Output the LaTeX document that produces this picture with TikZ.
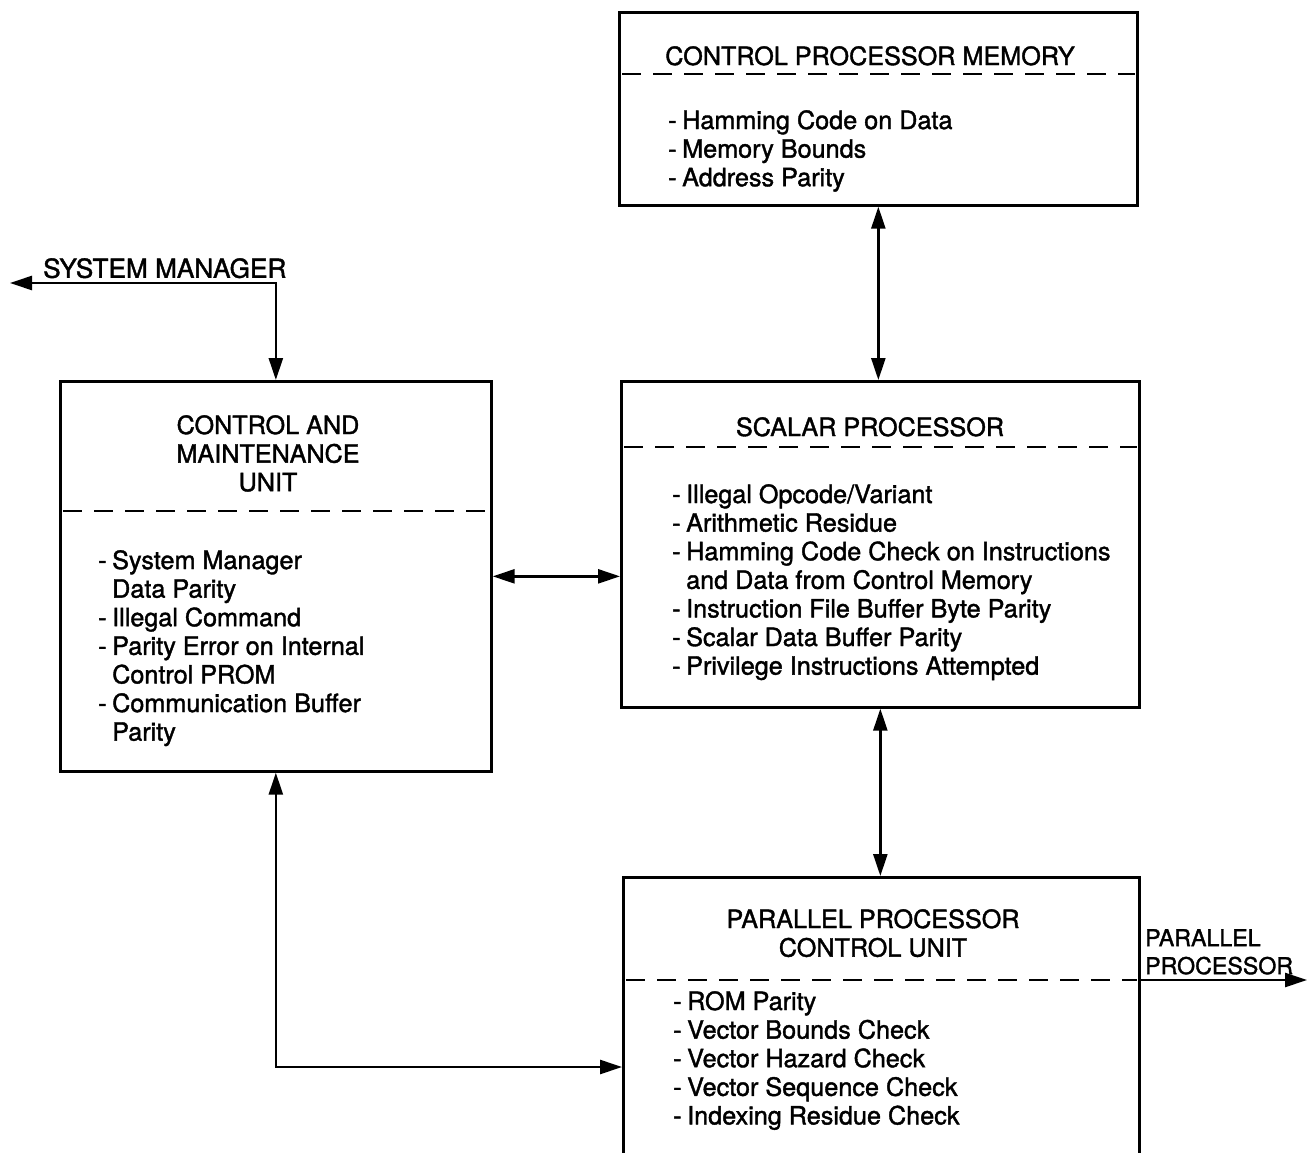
\documentclass[tikz,border=0pt]{standalone}
\usepackage{fontspec}
\setmainfont{TeX Gyre Heros}[RawFeature={embolden=1.5}]
\usetikzlibrary{arrows.meta}
\newcommand\fs{\fontsize{25.2}{28.6}\selectfont}
\newcommand\itm{\makebox[14pt][l]{-}}
\newcommand\cnt{\hspace*{14pt}}
\tikzset{
 box/.style={draw, line width=2.7pt, anchor=north west, inner sep=0pt},
 sep/.style={line width=2.4pt, dash pattern=on 19pt off 12pt, shorten <=4pt, shorten >=4pt},
 tip/.tip={Triangle[length=22pt,width=14pt]},
 conn/.style={line width=2.6pt, tip-tip},
 one/.style={line width=2.6pt, -tip},
 title/.style={anchor=north, inner sep=0pt, align=center, font=\fs},
 list/.style={anchor=north west, inner sep=0pt, align=left, font=\fs},
 lab/.style={anchor=north west, inner sep=0pt, align=left},
}
\begin{document}
\begin{tikzpicture}[x=1pt,y=-1pt]
\useasboundingbox (0,0) rectangle (1307,1153);
% boxes
\node[box, minimum width=518pt, minimum height=193pt] (cpm) at (618,11) {};
\node[box, minimum width=518pt, minimum height=326pt] (sp) at (620,380) {};
\node[box, minimum width=431pt, minimum height=390pt] (cmu) at (59,380) {};
\node[box, minimum width=516pt, minimum height=300pt] (ppcu) at (622,876) {};
% separators
\draw[sep] ([yshift=-63pt]cpm.north west) -- ([yshift=-63pt]cpm.north east);
\draw[sep] ([yshift=-67pt]sp.north west) -- ([yshift=-67pt]sp.north east);
\draw[sep] ([yshift=-131pt]cmu.north west) -- ([yshift=-131pt]cmu.north east);
\draw[sep] ([yshift=-104pt]ppcu.north west) -- ([yshift=-104pt]ppcu.north east);
% titles
\node[title] (cpmt) at (870,46) {CONTROL PROCESSOR MEMORY};
\node[title] (spt) at (870,417) {SCALAR PROCESSOR};
\node[title] (cmut) at (268,415) {CONTROL AND\\MAINTENANCE\\UNIT};
\node[title] (ppcut) at (873,909) {PARALLEL PROCESSOR\\CONTROL UNIT};
% lists
\node[list] (cpml) at (668,110) {\itm Hamming Code on Data\\ \itm Memory Bounds\\ \itm Address Parity};
\node[list] (spl) at (672,484) {\itm Illegal Opcode/Variant\\ \itm Arithmetic Residue\\ \itm Hamming Code Check on Instructions\\ \cnt and Data from Control Memory\\ \itm Instruction File Buffer Byte Parity\\ \itm Scalar Data Buffer Parity\\ \itm Privilege Instructions Attempted};
\node[list] (cmul) at (98,550) {\itm System Manager\\ \cnt Data Parity\\ \itm Illegal Command\\ \itm Parity Error on Internal\\ \cnt Control PROM\\ \itm Communication Buffer\\ \cnt Parity};
\node[list] (ppcul) at (673,991) {\itm ROM Parity\\ \itm Vector Bounds Check\\ \itm Vector Hazard Check\\ \itm Vector Sequence Check\\ \itm Indexing Residue Check};
% external labels
\node[lab, font={\fontsize{26.2}{28}\selectfont}] (sml) at (43,258) {SYSTEM MANAGER};
\node[lab, font={\fontsize{23.2}{28}\selectfont}] (ppl) at (1145,929) {PARALLEL\\PROCESSOR};
\coordinate (smtip) at (10,283);
\coordinate (pptip) at (1307,980);
% connectors
\draw[conn] (cpm.south) -- (cpm.south |- sp.north);
\draw[conn] (sp.south) -- (sp.south |- ppcu.north);
\draw[conn] (cmu.east) -- (cmu.east -| sp.west);
\draw[conn] (smtip) -| (cmu.north);
\draw[conn] (cmu.south) |- ([yshift=-191pt]ppcu.north west);
\draw[one] ([yshift=-104pt]ppcu.north east) -- (pptip);
\end{tikzpicture}
\end{document}
